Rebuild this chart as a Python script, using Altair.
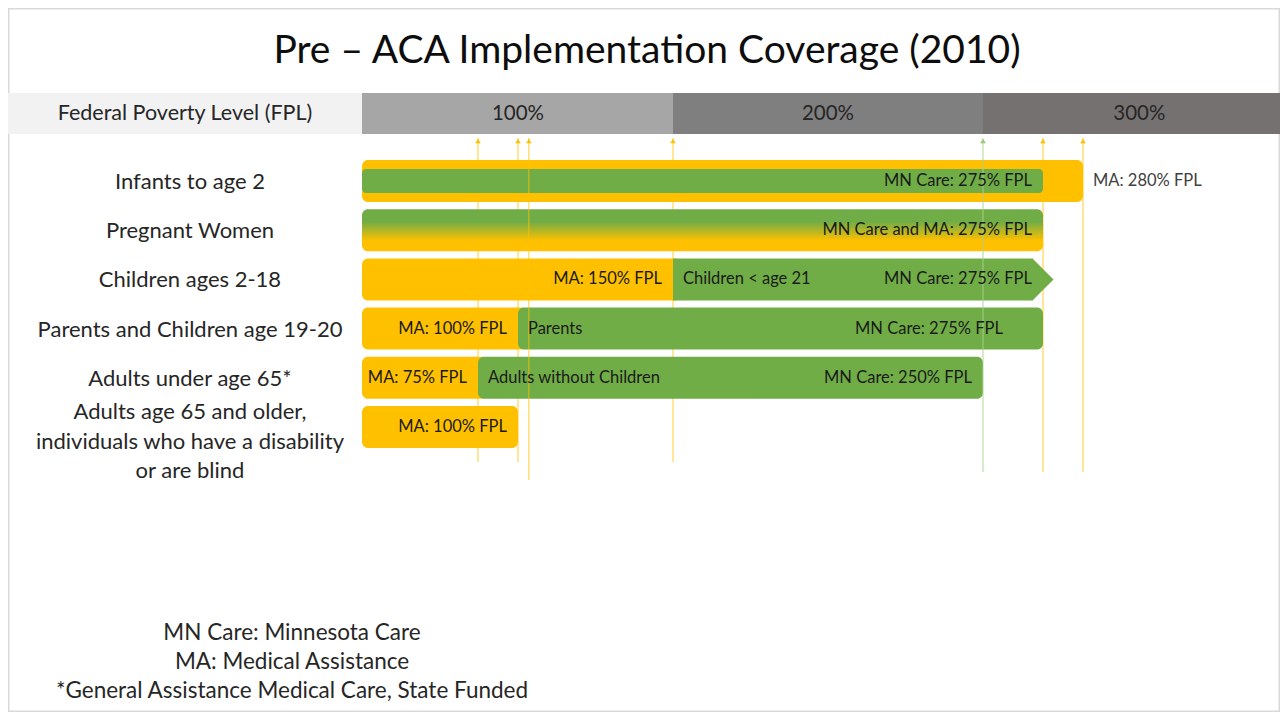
import altair as alt
import pandas as pd

# ---------------- data ----------------
title_text = "Pre – ACA Implementation Coverage (2010)"
header_title = "Federal Poverty Level (FPL)"

row_keys = ["infants", "pregnant", "children", "parents", "adults", "aged"]
row_labels = [
    "Infants to age 2",
    "Pregnant Women",
    "Children ages 2-18",
    "Parents and Children age 19-20",
    "Adults under age 65*",
    "Adults age 65 and older,\nindividuals who have a disability\nor are blind",
]

seg_row = ["infants", "infants", "pregnant", "children", "children",
           "parents", "parents", "adults", "adults", "aged"]
seg_program = ["MA", "MN Care", "MN Care and MA", "MA", "MN Care",
               "MA", "MN Care", "MA", "MN Care", "MA"]
seg_start = [0, 0, 0, 0, 150, 0, 100, 0, 75, 0]
seg_end = [280, 275, 275, 150, 275, 100, 275, 75, 250, 100]
seg_label = ["MA: 280% FPL", "MN Care: 275% FPL", "MN Care and MA: 275% FPL",
             "MA: 150% FPL", "MN Care: 275% FPL", "MA: 100% FPL",
             "MN Care: 275% FPL", "MA: 75% FPL", "MN Care: 250% FPL",
             "MA: 100% FPL"]

group_row = ["children", "parents", "adults"]
group_start = [150, 100, 75]
group_label = ["Children < age 21", "Parents", "Adults without Children"]

band_name = ["100%", "200%", "300%"]
band_start = [0, 150, 250]
band_end = [150, 250, 350]
band_mark = [100, 200, 300]

arrow_fpl = [75, 100, 103.5, 150, 250, 275, 280]
arrow_program = ["MA", "MA", "MA", "MA", "MN Care", "MA", "MA"]

footnotes = ["MN Care: Minnesota Care", "MA: Medical Assistance",
             "*General Assistance Medical Care, State Funded"]

# ---------------- style / layout ----------------
W, H = 1272, 704
FONT = "Lato"
YELLOW = "#FFC000"
GREEN = "#70AD47"
LIGHT_GREEN = "#A9D18E"
TXT = "#262626"
BAR_FS = 16.5
ROW_FS = 22

seg_df = pd.DataFrame(dict(row=seg_row, program=seg_program, start=seg_start,
                           end=seg_end, label=seg_label))
grp_df = pd.DataFrame(dict(row=group_row, start=group_start, label=group_label))
row_df = pd.DataFrame(dict(row=row_keys, label=row_labels))
band_df = pd.DataFrame(dict(name=band_name, start=band_start, end=band_end,
                            mark=band_mark))
arrow_df = pd.DataFrame(dict(fpl=arrow_fpl, program=arrow_program))
one = pd.DataFrame({"t": [title_text]})
head_df = pd.DataFrame({"t": [header_title], "zero": [0]})
foot_df = pd.DataFrame({"t": ["\n".join(footnotes)]})

x_scale = alt.Scale(domain=[0, 75, 100, 150, 250, 275, 280, 350],
                    range=[354, 470, 510, 665, 975, 1035, 1075, W],
                    nice=False, zero=False)
y_scale = alt.Scale(type="band", domain=row_keys, range=[148.4, 443.6],
                    paddingInner=0.146, paddingOuter=0.073)

X = alt.X("start:Q", scale=x_scale, axis=None)
Y = alt.Y("row:N", scale=y_scale, axis=None)

# border & title
border = alt.Chart(one).mark_rect(fill="transparent", stroke="#D9D9D9", strokeWidth=1.5).encode(
    x=alt.value(0.75), x2=alt.value(W - 0.75), y=alt.value(0.75), y2=alt.value(H - 0.75))
title = alt.Chart(one).mark_text(font=FONT, fontSize=39, color="#0D0D0D",
                                 align="center", baseline="middle").encode(
    text="t:N", x=alt.value(639), y=alt.value(43))

# header
head_cell = alt.Chart(head_df).mark_rect(color="#F2F2F2").encode(
    x=alt.X("zero:Q", scale=x_scale, axis=None), x2=alt.value(0),
    y=alt.value(85), y2=alt.value(126))
head_text = alt.Chart(head_df).mark_text(font=FONT, fontSize=21.5, color=TXT,
                                         align="center", baseline="middle").encode(
    text="t:N", x=alt.value(177), y=alt.value(106))
band_rect = alt.Chart(band_df).mark_rect().encode(
    x=alt.X("start:Q", scale=x_scale, axis=None), x2="end:Q",
    y=alt.value(85), y2=alt.value(126),
    fill=alt.Fill("name:N", scale=alt.Scale(domain=band_name,
                                             range=["#A6A6A6", "#7F7F7F", "#767171"]),
                  legend=None))
band_text = alt.Chart(band_df).mark_text(font=FONT, fontSize=20.5, color=TXT,
                                         align="center", baseline="middle").encode(
    x=alt.X("mark:Q", scale=x_scale, axis=None), y=alt.value(106), text="name:N")


def arrow_rule(expr, color, y2, opacity):
    return alt.Chart(arrow_df).transform_filter(expr).mark_rule(
        color=color, strokeWidth=1, opacity=opacity).encode(
        x=alt.X("fpl:Q", scale=x_scale, axis=None), y=alt.value(130), y2=alt.value(y2))


arrows_back = [
    arrow_rule("datum.fpl == 75 || datum.fpl == 100 || datum.fpl == 150", YELLOW, 454, 0.8),
    arrow_rule("datum.fpl == 275 || datum.fpl == 280", YELLOW, 464, 0.8),
]
arrows_front = [
    arrow_rule("datum.fpl == 103.5", YELLOW, 472, 0.8),
    arrow_rule("datum.fpl == 250", LIGHT_GREEN, 464, 0.9),
]
heads = [
    alt.Chart(arrow_df).transform_filter(f"datum.program == '{p}'").mark_point(
        shape="triangle-up", filled=True, size=30, opacity=1, color=c).encode(
        x=alt.X("fpl:Q", scale=x_scale, axis=None), y=alt.value(133))
    for p, c in [("MA", YELLOW), ("MN Care", "#8CC168")]
]

seg = alt.Chart(seg_df)
ma_ext = seg.transform_filter(
    "datum.program == 'MA' && (datum.row == 'children' || datum.row == 'parents' || datum.row == 'adults')"
).mark_bar(color=YELLOW, cornerRadius=6, x2Offset=8).encode(x=X, x2="end:Q", y=Y)
ma_plain = seg.transform_filter(
    "datum.program == 'MA' && (datum.row == 'infants' || datum.row == 'aged')"
).mark_bar(color=YELLOW, cornerRadius=6).encode(x=X, x2="end:Q", y=Y)
mn_reg = seg.transform_filter(
    "datum.program == 'MN Care' && (datum.row == 'parents' || datum.row == 'adults')"
).mark_bar(color=GREEN, cornerRadius=6).encode(x=X, x2="end:Q", y=Y)
mn_inf = seg.transform_filter(
    "datum.program == 'MN Care' && datum.row == 'infants'"
).mark_bar(color=GREEN, cornerRadius=4, size=24).encode(x=X, x2="end:Q", y=Y)
mn_child = seg.transform_filter(
    "datum.program == 'MN Care' && datum.row == 'children'"
).mark_bar(color=GREEN, cornerRadius=0, x2Offset=-10).encode(x=X, x2="end:Q", y=Y)
mn_tip = seg.transform_filter(
    "datum.program == 'MN Care' && datum.row == 'children'"
).mark_point(shape="M-0.5,-1L0.5,0L-0.5,1Z", size=1764, filled=True, opacity=1,
             color=GREEN, strokeWidth=0).encode(
    x=alt.X("end:Q", scale=x_scale, axis=None), y=Y)
both = seg.transform_filter("datum.program == 'MN Care and MA'").mark_bar(
    cornerRadius=6,
    color={"gradient": "linear", "x1": 0, "y1": 0, "x2": 0, "y2": 1,
           "stops": [{"offset": 0, "color": GREEN}, {"offset": 0.3, "color": GREEN},
                     {"offset": 0.75, "color": YELLOW}, {"offset": 1, "color": YELLOW}]}
).encode(x=X, x2="end:Q", y=Y)

end_lab = seg.transform_filter(
    "!(datum.program == 'MA' && datum.row == 'infants') && !(datum.program == 'MN Care' && datum.row == 'parents')"
).mark_text(font=FONT, fontSize=BAR_FS, color="#1A1A1A", align="right", baseline="middle", dx=-11).encode(
    x=alt.X("end:Q", scale=x_scale, axis=None), y=Y, text="label:N")
par_lab = seg.transform_filter(
    "datum.program == 'MN Care' && datum.row == 'parents'"
).mark_text(font=FONT, fontSize=BAR_FS, color="#1A1A1A", align="right", baseline="middle", dx=-40).encode(
    x=alt.X("end:Q", scale=x_scale, axis=None), y=Y, text="label:N")
out_lab = seg.transform_filter(
    "datum.program == 'MA' && datum.row == 'infants'"
).mark_text(font=FONT, fontSize=BAR_FS, color="#404040", align="left", baseline="middle", dx=10).encode(
    x=alt.X("end:Q", scale=x_scale, axis=None), y=Y, text="label:N")
grp_lab = alt.Chart(grp_df).mark_text(font=FONT, fontSize=BAR_FS, color="#1A1A1A", align="left",
                                      baseline="middle", dx=10).encode(
    x=X, y=Y, text="label:N")

row_lab = alt.Chart(row_df).transform_filter("datum.row != 'aged'").mark_text(
    font=FONT, fontSize=ROW_FS, color=TXT, align="center", baseline="middle", dy=1).encode(
    x=alt.value(182), y=Y, text="label:N")
row_lab_last = alt.Chart(row_df).transform_filter("datum.row == 'aged'").mark_text(
    font=FONT, fontSize=ROW_FS, color=TXT, align="center", baseline="middle",
    lineBreak="\n", lineHeight=29.5, dy=-15).encode(
    x=alt.value(182), y=Y, text="label:N")

foot = alt.Chart(foot_df).mark_text(font=FONT, fontSize=22.5, color=TXT, align="center",
                                    baseline="middle", lineBreak="\n", lineHeight=29).encode(
    text="t:N", x=alt.value(284), y=alt.value(625))

chart = alt.layer(
    border, title, head_cell, head_text, band_rect, band_text,
    *arrows_back, *heads,
    ma_ext, ma_plain, mn_reg, mn_inf, mn_child, mn_tip, both,
    *arrows_front,
    end_lab, par_lab, out_lab, grp_lab, row_lab, row_lab_last, foot,
).properties(
    width=W, height=H, padding=0, autosize=alt.AutoSizeParams(type="none"),
    background="white",
).configure_view(stroke=None)

chart.save("out.html", embed_options={"renderer": "svg", "actions": False})
